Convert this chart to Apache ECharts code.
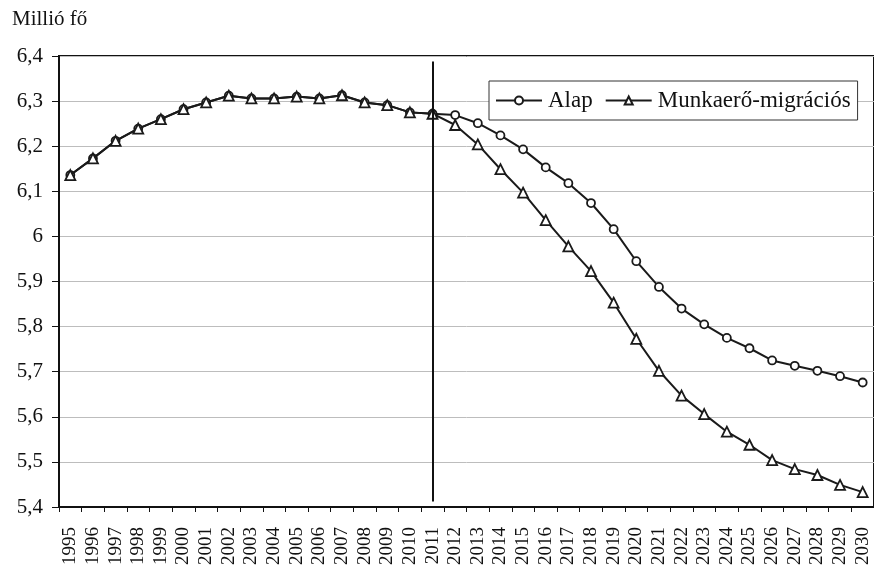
<!DOCTYPE html>
<html>
<head>
<meta charset="utf-8">
<script src="https://cdn.jsdelivr.net/npm/echarts@6/dist/echarts.min.js"></script>
<style>
html,body{margin:0;padding:0;background:#fff;}
#c{width:874px;height:573px;}
</style>
</head>
<body>
<div id="c"></div>
<script>
var years = ['1995','1996','1997','1998','1999','2000','2001','2002','2003','2004','2005','2006','2007','2008','2009','2010','2011','2012','2013','2014','2015','2016','2017','2018','2019','2020','2021','2022','2023','2024','2025','2026','2027','2028','2029','2030'];
var alap = [6.136,6.173,6.212,6.239,6.260,6.282,6.297,6.312,6.306,6.306,6.310,6.306,6.313,6.297,6.291,6.275,6.272,
            6.269,6.251,6.224,6.193,6.153,6.118,6.074,6.016,5.945,5.888,5.840,5.805,5.775,5.752,5.725,5.713,5.702,5.690,5.676];
var migracios = [6.136,6.173,6.212,6.239,6.260,6.282,6.297,6.312,6.306,6.306,6.310,6.306,6.313,6.297,6.291,6.275,6.272,
            6.247,6.204,6.149,6.097,6.036,5.978,5.923,5.853,5.773,5.702,5.647,5.606,5.567,5.538,5.504,5.484,5.471,5.449,5.433];
var seriesNames = ['Alap','Munkaerő-migrációs'];
var yTitle = 'Millió fő';
var dividerYear = '2011';

var FONT = "'Liberation Serif','Times New Roman',serif";
var chart = echarts.init(document.getElementById('c'), null, {renderer:'canvas'});
chart.setOption({
  animation:false,
  backgroundColor:'#fff',
  title:{text:yTitle,left:7,top:4,textStyle:{fontFamily:FONT,fontSize:21,fontWeight:'normal',color:'#111'}},
  grid:{left:59,top:56,width:818,height:451,show:true,borderColor:'#111',borderWidth:2,backgroundColor:'transparent'},
  legend:{
    left:489,top:81,padding:[8,7,8,6],itemGap:12,itemWidth:46,itemHeight:10,
    backgroundColor:'#fff',borderColor:'#333',borderWidth:1,
    textStyle:{fontFamily:FONT,fontSize:23,color:'#111',padding:[0,0,0,1]},
    data:seriesNames
  },
  xAxis:{
    type:'category',data:years,boundaryGap:true,
    axisLine:{lineStyle:{color:'#111',width:2}},
    axisTick:{show:true,length:5,lineStyle:{color:'#111',width:1}},
    axisLabel:{rotate:90,fontFamily:FONT,fontSize:19,color:'#111',margin:20,interval:0}
  },
  yAxis:{
    type:'value',min:5.4,max:6.4,interval:0.1,
    axisLine:{show:true,lineStyle:{color:'#111',width:2}},
    axisTick:{show:true,length:7,lineStyle:{color:'#111',width:1}},
    axisLabel:{fontFamily:FONT,fontSize:21,color:'#111',margin:16,
      formatter:function(v){var s=(Math.round(v*10)/10).toFixed(1);if(s.slice(-2)==='.0')s=s.slice(0,-2);return s.replace('.',',');}},
    splitLine:{show:true,lineStyle:{color:'#bdbdbd',width:1}}
  },
  series:[
    {name:seriesNames[0],type:'line',data:alap,symbol:'circle',symbolSize:8,showAllSymbol:true,
     lineStyle:{color:'#1a1a1a',width:2},itemStyle:{color:'#fff',borderColor:'#1a1a1a',borderWidth:1.8},
     markLine:{silent:true,symbol:'none',label:{show:false},lineStyle:{color:'#111',width:2,type:'solid'},
       data:[[{coord:[dividerYear,6.388]},{coord:[dividerYear,5.412]}]]},z:3},
    {name:seriesNames[1],type:'line',data:migracios,symbol:'triangle',symbolSize:10,showAllSymbol:true,
     lineStyle:{color:'#1a1a1a',width:2},itemStyle:{color:'#fff',borderColor:'#1a1a1a',borderWidth:1.8},z:4}
  ]
});
</script>
</body>
</html>
